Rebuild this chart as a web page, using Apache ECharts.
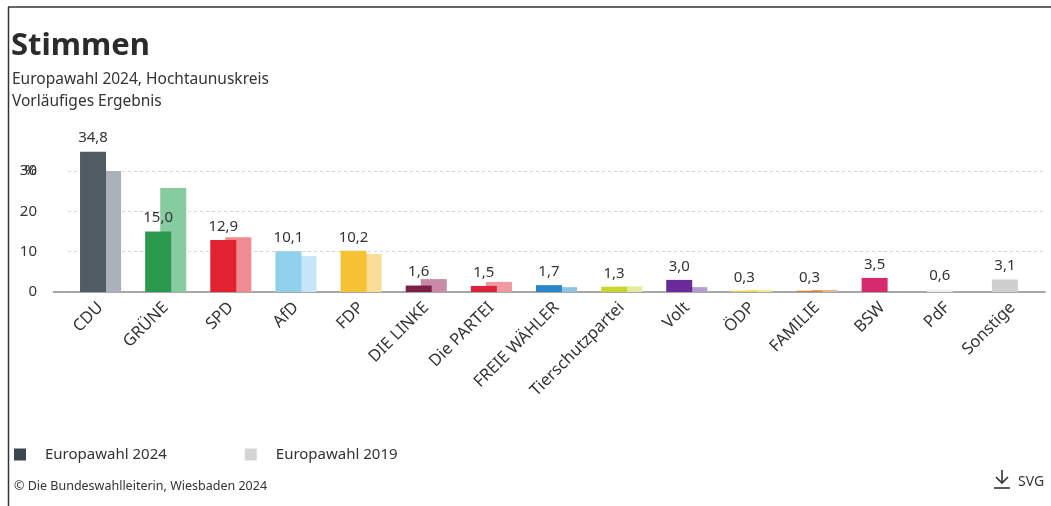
<!DOCTYPE html>
<html><head><meta charset="utf-8">
<script src="https://cdn.jsdelivr.net/npm/echarts@6/dist/echarts.min.js"></script>
<style>html,body{margin:0;padding:0;background:#fff}#c{width:1051px;height:506px}</style>
</head><body><div id="c"></div>
<script>
const categories = ['CDU','GRÜNE','SPD','AfD','FDP','DIE LINKE','Die PARTEI','FREIE WÄHLER','Tierschutzpartei','Volt','ÖDP','FAMILIE','BSW','PdF','Sonstige'];
const values2024 = [34.8,15.0,12.9,10.1,10.2,1.6,1.5,1.7,1.3,3.0,0.3,0.3,3.5,0.6,3.1];
const values2019 = [30.6,25.8,13.6,8.9,9.4,3.2,2.5,1.2,1.4,1.2,0.5,0.5,null,null,null];
const colors2024 = ['#505b64','#2b9a4e','#e2232f','#8fd0ea','#f6c132','#7a1f45','#d8253a','#2a86c9','#c9d52c','#6b2a99','#f2d23a','#d9782f','#d52a6c','#eeeeee','#cfcfcf'];
const colors2019 = ['#aab1b9','#87cca1','#ee8c92','#c5e6f4','#f9dc95','#c98aa8','#ee9aa1','#8cc3e6','#e5eca2','#b29dcc','#f8e79a','#ecb48b','#f0a8c2','#f3f3f3','#e6e6e6'];
const yTicks = [0,10,20,30];
const yUnit = '%';

const FONT = '"Noto Sans", "Open Sans", sans-serif';
const chart = echarts.init(document.getElementById('c'), null, {renderer:'canvas'});
const fmt = v => v.toFixed(1).replace('.', ',');

chart.setOption({
  animation:false,
  textStyle:{fontFamily:FONT},
  title:[
    {text:'Stimmen', left:6, top:26, textStyle:{fontSize:31, fontWeight:'bold', color:'#2b2b2b', fontFamily:FONT}},
    {text:'Europawahl 2024, Hochtaunuskreis\nVorläufiges Ergebnis', left:7, top:64, textStyle:{fontSize:15.5, fontWeight:'normal', color:'#333', lineHeight:22, fontFamily:FONT}},
    {text:'© Die Bundeswahlleiterin, Wiesbaden 2024', left:9, top:475, textStyle:{fontSize:12.5, fontWeight:'normal', color:'#333', fontFamily:FONT}},
    {text:'SVG', left:1013, top:470, textStyle:{fontSize:14, fontWeight:'normal', color:'#333', fontFamily:FONT}}
  ],
  legend:{
    left:9, top:442, itemWidth:12, itemHeight:12, itemGap:78, icon:'rect',
    textStyle:{fontSize:15, color:'#333', fontFamily:FONT, padding:[0,0,0,14]},
    data:['Europawahl 2024','Europawahl 2019']
  },
  grid:{left:68, right:6, top:171, bottom:214, containLabel:false},
  xAxis:{
    type:'category', data:categories,
    axisLine:{lineStyle:{color:'#8a8a8a', width:1.5}},
    axisTick:{show:false},
    axisLabel:{rotate:45, fontSize:16.5, color:'#333', margin:13, interval:0, fontFamily:FONT}
  },
  yAxis:{
    type:'value', min:yTicks[0], max:yTicks[yTicks.length-1], interval:10,
    axisLine:{show:false}, axisTick:{show:false},
    axisLabel:{fontSize:15, color:'#333', margin:31, fontFamily:FONT},
    splitLine:{lineStyle:{color:['transparent','#d6d6d6','#d6d6d6','#d6d6d6'], type:[3,3], width:1}}
  },
  series:[
    {
      name:'Europawahl 2024', type:'bar', barWidth:26, barGap:'-42%', z:3, clip:false,
      itemStyle:{color:'#3b4650'},
      data: values2024.map((v,i)=>({value:v, itemStyle:{color:colors2024[i]}})),
      label:{show:true, position:'top', distance:6, fontSize:15, color:'#333', fontFamily:FONT, formatter:p=>fmt(p.value)}
    },
    {
      name:'Europawahl 2019', type:'bar', barWidth:26, z:2,
      itemStyle:{color:'#d4d4d4'},
      data: values2019.map((v,i)=>({value:v, itemStyle:{color:colors2019[i]}}))
    }
  ],
  graphic:[
    {type:'line', shape:{x1:8, y1:7, x2:1051, y2:7}, style:{stroke:'#333', lineWidth:1.5}},
    {type:'line', shape:{x1:8.5, y1:7, x2:8.5, y2:506}, style:{stroke:'#333', lineWidth:1.5}},
    {type:'line', shape:{x1:53, y1:292, x2:68, y2:292}, style:{stroke:'#8a8a8a', lineWidth:1.5}},
    {type:'text', x:37, y:171, style:{text:yUnit, fill:'#333', font:'15px "Noto Sans", sans-serif', textAlign:'right', textVerticalAlign:'middle'}},
    {type:'polyline', shape:{points:[[1002,470],[1002,483]]}, style:{stroke:'#333', lineWidth:1.6, fill:null}},
    {type:'polyline', shape:{points:[[996,477],[1002,483],[1008,477]]}, style:{stroke:'#333', lineWidth:1.6, fill:null}},
    {type:'line', shape:{x1:994, y1:488, x2:1010, y2:488}, style:{stroke:'#333', lineWidth:1.6}}
  ]
});
</script></body></html>
